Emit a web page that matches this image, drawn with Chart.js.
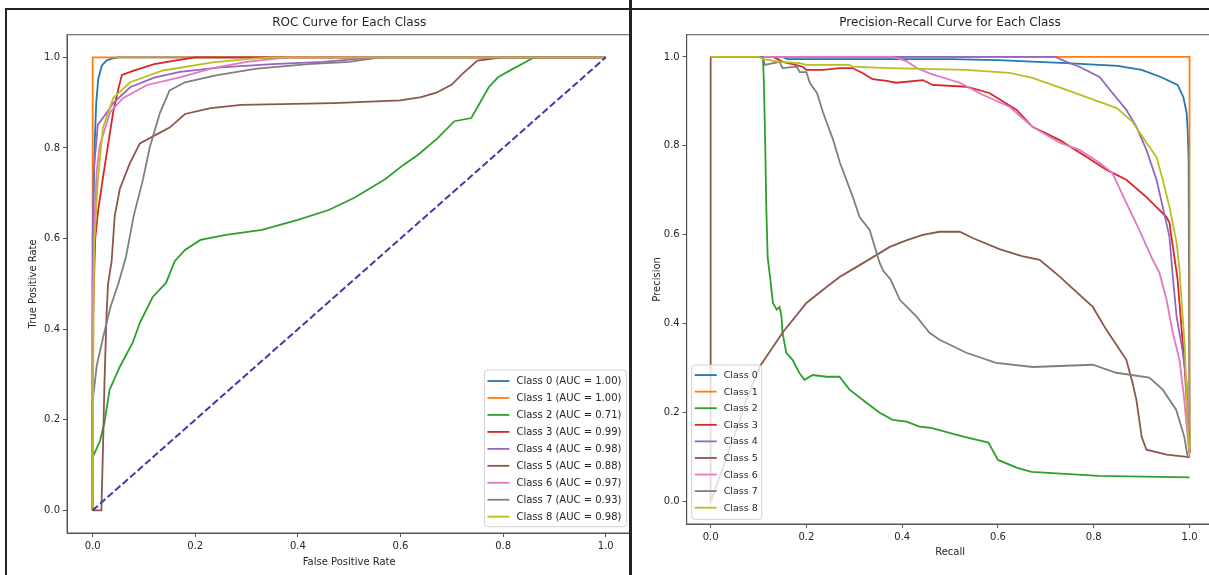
<!DOCTYPE html>
<html>
<head>
<meta charset="utf-8">
<script src="https://cdn.jsdelivr.net/npm/chart.js@4.4.1/dist/chart.umd.min.js"></script>
<style>
  html, body { margin: 0; padding: 0; background: #fff; overflow: hidden; }
  body { width: 1209px; height: 575px; position: relative; }
  canvas { position: absolute; top: 0; }
  #roc { left: 0; }
  #pr { left: 632px; }
  .rule { position: absolute; background: #222; }
</style>
</head>
<body>
<canvas id="roc" width="632" height="575"></canvas>
<canvas id="pr" width="584" height="575"></canvas>
<div class="rule" style="left:5px;top:8px;width:1204px;height:2px"></div>
<div class="rule" style="left:5px;top:8px;width:2px;height:567px"></div>
<div class="rule" style="left:629px;top:0;width:3px;height:575px"></div>
<script>
// classes and their AUC values from the legend
const classNames = ['Class 0', 'Class 1', 'Class 2', 'Class 3', 'Class 4', 'Class 5', 'Class 6', 'Class 7', 'Class 8'];
const aucValues = [1.00, 1.00, 0.71, 0.99, 0.98, 0.88, 0.97, 0.93, 0.98];
const tickValues = [0, 0.2, 0.4, 0.6, 0.8, 1.0];

// ROC curves: [false positive rate, true positive rate]
const roc0 = [[0,0],[0,0.5],[0.002,0.7],[0.004,0.81],[0.007,0.9],[0.011,0.953],[0.018,0.982],[0.027,0.993],[0.037,0.997],[0.05,1],[1,1]];
const roc1 = [[0,0],[0,1],[1,1]];
const roc2 = [[0,0],[0,0.117],[0.014,0.152],[0.023,0.194],[0.033,0.266],[0.053,0.317],[0.078,0.37],[0.092,0.414],[0.117,0.471],[0.143,0.502],[0.16,0.55],[0.18,0.575],[0.21,0.597],[0.26,0.608],[0.33,0.619],[0.4,0.641],[0.46,0.663],[0.51,0.69],[0.57,0.731],[0.605,0.762],[0.633,0.784],[0.672,0.821],[0.705,0.859],[0.738,0.866],[0.772,0.934],[0.79,0.956],[0.818,0.974],[0.843,0.989],[0.86,1],[1,1]];
const roc3 = [[0,0],[0,0.4],[0.005,0.6],[0.0104,0.659],[0.02,0.734],[0.03,0.807],[0.04,0.879],[0.05,0.93],[0.057,0.961],[0.083,0.972],[0.12,0.985],[0.16,0.993],[0.2,1],[1,1]];
const roc4 = [[0,0],[0,0.6],[0.002,0.748],[0.01,0.851],[0.028,0.879],[0.04,0.899],[0.073,0.934],[0.12,0.955],[0.17,0.968],[0.25,0.978],[0.35,0.985],[0.45,0.99],[0.55,1],[1,1]];
const roc5 = [[0,0],[0.017,0],[0.02,0.13],[0.023,0.28],[0.027,0.43],[0.03,0.5],[0.037,0.55],[0.043,0.65],[0.053,0.71],[0.072,0.765],[0.092,0.81],[0.125,0.83],[0.15,0.845],[0.18,0.875],[0.23,0.888],[0.29,0.895],[0.47,0.899],[0.6,0.905],[0.64,0.912],[0.67,0.922],[0.7,0.94],[0.72,0.963],[0.75,0.993],[0.8,1],[1,1]];
const roc6 = [[0,0],[0,0.45],[0.004,0.65],[0.008,0.75],[0.014,0.806],[0.034,0.879],[0.059,0.91],[0.106,0.939],[0.17,0.956],[0.234,0.976],[0.3,0.99],[0.38,1],[1,1]];
const roc7 = [[0,0],[0,0.24],[0.008,0.32],[0.02,0.38],[0.035,0.45],[0.05,0.5],[0.065,0.56],[0.08,0.65],[0.098,0.73],[0.111,0.8],[0.131,0.877],[0.15,0.927],[0.18,0.945],[0.24,0.96],[0.32,0.975],[0.42,0.985],[0.5,0.99],[0.56,1],[1,1]];
const roc8 = [[0,0],[0.001,0.3],[0.003,0.586],[0.0104,0.733],[0.02,0.844],[0.04,0.91],[0.073,0.945],[0.137,0.971],[0.234,0.989],[0.3,0.996],[0.35,1],[1,1]];
const chanceLine = [[0,0],[1,1]];

// Precision-recall curves: [recall, precision]
const pr0 = [[0,1],[0.15,1],[0.16,0.995],[0.5,0.995],[0.6,0.993],[0.743,0.986],[0.85,0.98],[0.9,0.971],[0.94,0.955],[0.975,0.937],[0.987,0.91],[0.994,0.874],[0.996,0.836],[0.998,0.775],[1,0.11]];
const pr1 = [[0,1],[1,1],[1,0.11]];
const pr2 = [[0,1],[0.109,1],[0.111,0.95],[0.114,0.8],[0.116,0.67],[0.119,0.55],[0.124,0.506],[0.13,0.447],[0.138,0.432],[0.144,0.438],[0.148,0.416],[0.15,0.38],[0.158,0.335],[0.171,0.319],[0.185,0.29],[0.196,0.274],[0.213,0.285],[0.242,0.281],[0.269,0.281],[0.29,0.252],[0.326,0.222],[0.353,0.2],[0.38,0.184],[0.409,0.18],[0.436,0.169],[0.46,0.166],[0.53,0.146],[0.58,0.133],[0.6,0.094],[0.64,0.076],[0.67,0.067],[0.81,0.058],[1,0.055]];
const pr3 = [[0,1],[0.13,1],[0.14,0.995],[0.15,0.989],[0.171,0.984],[0.192,0.978],[0.2,0.971],[0.234,0.971],[0.27,0.975],[0.296,0.975],[0.317,0.964],[0.338,0.95],[0.367,0.946],[0.388,0.942],[0.443,0.948],[0.463,0.937],[0.534,0.933],[0.582,0.919],[0.639,0.881],[0.672,0.843],[0.729,0.813],[0.785,0.775],[0.827,0.746],[0.868,0.724],[0.91,0.685],[0.952,0.64],[0.958,0.627],[0.975,0.5],[0.99,0.3],[1,0.11]];
const pr4 = [[0,1],[0.72,1],[0.743,0.989],[0.77,0.978],[0.812,0.955],[0.839,0.919],[0.868,0.881],[0.889,0.843],[0.91,0.791],[0.931,0.724],[0.944,0.663],[0.958,0.596],[0.965,0.506],[0.973,0.416],[0.985,0.342],[0.994,0.267],[0.996,0.191],[1,0.11]];
const pr5 = [[1,0.1],[0.994,0.101],[0.952,0.106],[0.91,0.117],[0.9,0.146],[0.889,0.229],[0.881,0.267],[0.868,0.319],[0.826,0.387],[0.798,0.438],[0.743,0.492],[0.729,0.506],[0.687,0.544],[0.65,0.552],[0.603,0.568],[0.547,0.593],[0.52,0.607],[0.478,0.607],[0.443,0.6],[0.41,0.588],[0.374,0.573],[0.339,0.55],[0.305,0.528],[0.27,0.506],[0.242,0.483],[0.2,0.447],[0.15,0.38],[0.102,0.303],[0.075,0.23],[0.05,0.15],[0.02,0.06],[0,0],[0,1]];
const pr6 = [[0,1],[0.38,1],[0.41,0.99],[0.43,0.975],[0.46,0.962],[0.52,0.942],[0.568,0.915],[0.624,0.888],[0.672,0.843],[0.729,0.807],[0.77,0.791],[0.812,0.762],[0.839,0.739],[0.868,0.672],[0.895,0.611],[0.923,0.544],[0.937,0.515],[0.952,0.454],[0.965,0.38],[0.979,0.319],[0.989,0.229],[0.996,0.146],[1,0.101]];
const pr7 = [[0,1],[0.109,1],[0.113,0.982],[0.144,0.989],[0.15,0.975],[0.18,0.978],[0.186,0.966],[0.2,0.966],[0.207,0.942],[0.222,0.919],[0.235,0.874],[0.256,0.813],[0.27,0.762],[0.297,0.685],[0.311,0.64],[0.332,0.611],[0.353,0.537],[0.36,0.52],[0.376,0.499],[0.395,0.454],[0.43,0.416],[0.457,0.38],[0.478,0.364],[0.534,0.335],[0.596,0.312],[0.673,0.303],[0.798,0.308],[0.847,0.29],[0.916,0.279],[0.944,0.252],[0.972,0.207],[0.989,0.146],[0.996,0.101],[1,0.1]];
const pr8 = [[0,1],[0.1,1],[0.109,0.995],[0.123,0.993],[0.144,0.989],[0.186,0.986],[0.2,0.982],[0.29,0.982],[0.296,0.978],[0.374,0.975],[0.534,0.971],[0.624,0.964],[0.672,0.953],[0.743,0.926],[0.812,0.899],[0.848,0.885],[0.881,0.854],[0.91,0.807],[0.931,0.775],[0.944,0.724],[0.958,0.663],[0.973,0.582],[0.979,0.521],[0.99,0.35],[0.996,0.177],[1,0.11]];

const rocCurves = [roc0, roc1, roc2, roc3, roc4, roc5, roc6, roc7, roc8];
const prCurves = [pr0, pr1, pr2, pr3, pr4, pr5, pr6, pr7, pr8];

const colors = ['#1f77b4', '#ff7f0e', '#2ca02c', '#d62728', '#9467bd', '#8c564b', '#e377c2', '#7f7f7f', '#bcbd22'];
const FONT = '"DejaVu Sans", sans-serif';
const TEXT = '#262626';
const SPINE = '#555';

Chart.defaults.font.family = FONT;

const toPts = arr => arr.map(([x, y]) => ({ x: x, y: y }));

// draws title, the missing top/right spines and a matplotlib style legend
const framePlugin = {
  id: 'frame',
  afterDatasetsDraw(chart) {
    const o = chart.options.plugins.frame;
    const ctx = chart.ctx;
    const ca = chart.chartArea;
    ctx.save();
    ctx.strokeStyle = SPINE;
    ctx.lineWidth = 1;
    ctx.strokeRect(ca.left, ca.top, ca.right - ca.left, ca.bottom - ca.top);

    ctx.fillStyle = TEXT;
    ctx.font = '12px ' + FONT;
    ctx.textAlign = 'center';
    ctx.textBaseline = 'middle';
    ctx.fillText(o.title, (ca.left + ca.right) / 2, o.titleY);

    // legend
    const items = chart.data.datasets.filter(d => d.label);
    ctx.font = o.legendSize + 'px ' + FONT;
    const textW = Math.max(...items.map(d => ctx.measureText(d.label).width));
    const w = 3 + 22 + 7 + textW + o.padRight;
    const h = o.padTop + o.rowH * (items.length - 1) + o.padBottom;
    const x0 = o.side === 'right' ? ca.right - 5 - w : ca.left + 5;
    const y0 = ca.bottom - o.insetBottom - h;
    ctx.fillStyle = 'rgba(255,255,255,0.8)';
    ctx.strokeStyle = '#d0d0d0';
    ctx.beginPath();
    ctx.roundRect(x0, y0, w, h, 3);
    ctx.fill();
    ctx.stroke();
    ctx.textAlign = 'left';
    items.forEach((d, i) => {
      const y = y0 + o.padTop + i * o.rowH;
      ctx.strokeStyle = d.borderColor;
      ctx.lineWidth = d.borderWidth;
      ctx.beginPath();
      ctx.moveTo(x0 + 3, y);
      ctx.lineTo(x0 + 25, y);
      ctx.stroke();
      ctx.fillStyle = TEXT;
      ctx.fillText(d.label, x0 + 32, y + 0.5);
    });
    ctx.restore();
  }
};

function axis(title, pad, fit, isX) {
  return {
    type: 'linear',
    min: -0.05,
    max: 1.05,
    afterBuildTicks: s => { s.ticks = tickValues.map(v => ({ value: v })); },
    afterFit: s => { if (isX) s.height = fit; else s.width = fit; },
    ticks: { callback: v => v.toFixed(1), font: { size: 10 }, color: TEXT, padding: 3, maxRotation: 0, autoSkip: false },
    grid: { display: true, drawOnChartArea: false, drawTicks: true, tickLength: 4, color: SPINE },
    border: { display: true, color: SPINE },
    title: { display: true, text: title, font: { size: 10 }, color: TEXT, padding: pad }
  };
}

function lineSet(curve, i, label) {
  return {
    label: label,
    data: toPts(curve),
    borderColor: colors[i],
    borderWidth: 1.8,
    pointRadius: 0,
    fill: false,
    tension: 0,
    order: 9 - i
  };
}

const rocSets = rocCurves.map((c, i) => lineSet(c, i, `${classNames[i]} (AUC = ${aucValues[i].toFixed(2)})`));
rocSets.push({
  label: '',
  data: toPts(chanceLine),
  borderColor: '#3c3ca8',
  borderWidth: 2,
  borderDash: [7, 3],
  pointRadius: 0,
  fill: false,
  order: 0
});

new Chart(document.getElementById('roc'), {
  type: 'line',
  data: { datasets: rocSets },
  options: {
    responsive: false,
    animation: false,
    layout: { padding: { left: 0, right: 0.6, top: 34.7, bottom: 0 } },
    scales: {
      x: axis('False Positive Rate', { top: 0, bottom: 7 }, 42, true),
      y: axis('True Positive Rate', { top: 27, bottom: 0 }, 67, false)
    },
    plugins: {
      legend: { display: false },
      tooltip: { enabled: false },
      frame: { title: 'ROC Curve for Each Class', titleY: 23, legendSize: 10, rowH: 16.96, padTop: 11, padBottom: 10, padRight: 5, insetBottom: 6.3, side: 'right' }
    }
  },
  plugins: [framePlugin]
});

new Chart(document.getElementById('pr'), {
  type: 'line',
  data: { datasets: prCurves.map((c, i) => lineSet(c, i, classNames[i])) },
  options: {
    responsive: false,
    animation: false,
    layout: { padding: { left: 0, right: 2.5, top: 34.7, bottom: 0 } },
    scales: {
      x: axis('Recall', { top: 0, bottom: 16.3 }, 51, true),
      y: axis('Precision', { top: 19, bottom: 0 }, 54.7, false)
    },
    plugins: {
      legend: { display: false },
      tooltip: { enabled: false },
      frame: { title: 'Precision-Recall Curve for Each Class', titleY: 23, legendSize: 9.5, rowH: 16.58, padTop: 10, padBottom: 11.6, padRight: 4, insetBottom: 4.7, side: 'left' }
    }
  },
  plugins: [framePlugin]
});
</script>
</body>
</html>
